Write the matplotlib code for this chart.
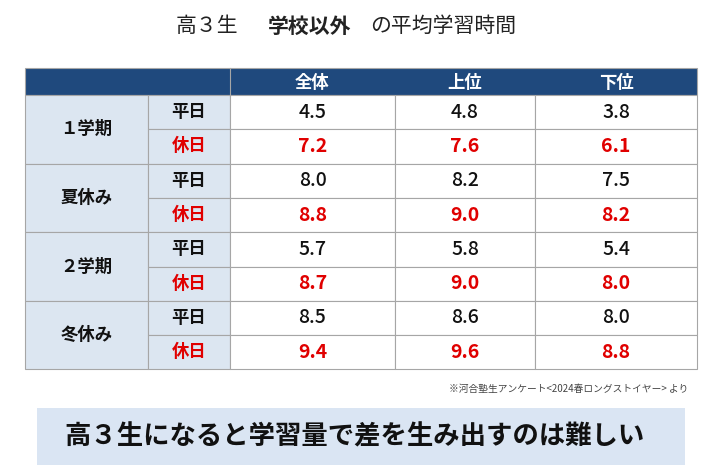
import matplotlib.pyplot as plt
from matplotlib.patches import Rectangle

plt.rcParams['font.family'] = 'Noto Sans CJK JP'

periods = ['１学期', '夏休み', '２学期', '冬休み']
day_types = ['平日', '休日']
groups = ['全体', '上位', '下位']
# [period][day_type][group]
hours = [
    [[4.5, 4.8, 3.8], [7.2, 7.6, 6.1]],
    [[8.0, 8.2, 7.5], [8.8, 9.0, 8.2]],
    [[5.7, 5.8, 5.4], [8.7, 9.0, 8.0]],
    [[8.5, 8.6, 8.0], [9.4, 9.6, 8.8]],
]

navy = '#1f497d'
light = '#dce6f1'
red = '#e00000'
grid = '#a6a6a6'

fig = plt.figure(figsize=(7.2, 4.76), dpi=100)
ax = fig.add_axes([0, 0, 1, 1])
ax.set_xlim(0, 720)
ax.set_ylim(476, 0)
ax.axis('off')

col_x = [25, 148, 230, 395, 535, 697]
head_top, head_bot = 68, 95
row_h = 34.3

# title
ax.text(176, 26, '高３生', ha='left', va='center', fontsize=15, color='#222')
ax.text(268, 26, '学校以外', ha='left', va='center', fontsize=15, fontweight='bold', color='#222')
ax.text(370, 26, 'の平均学習時間', ha='left', va='center', fontsize=15, color='#222')

# header
ax.add_patch(Rectangle((col_x[0], head_top), col_x[-1] - col_x[0], head_bot - head_top,
                       facecolor=navy, edgecolor=grid, lw=0.8))
for j, g in enumerate(groups):
    xc = (col_x[j + 2] + col_x[j + 3]) / 2
    ax.text(xc, (head_top + head_bot) / 2 + 1, g, ha='center', va='center',
            fontsize=12.5, fontweight='bold', color='white')
ax.plot([col_x[2], col_x[2]], [head_top, head_bot], color=grid, lw=0.8)

for i, p in enumerate(periods):
    y0 = head_bot + i * 2 * row_h
    ax.add_patch(Rectangle((col_x[0], y0), col_x[1] - col_x[0], 2 * row_h,
                           facecolor=light, edgecolor=grid, lw=0.8))
    ax.text((col_x[0] + col_x[1]) / 2, y0 + row_h, p, ha='center', va='center',
            fontsize=12.5, fontweight='bold', color='#111')
    for k, d in enumerate(day_types):
        yk = y0 + k * row_h
        c = '#111' if k == 0 else red
        ax.add_patch(Rectangle((col_x[1], yk), col_x[2] - col_x[1], row_h,
                               facecolor=light, edgecolor=grid, lw=0.8))
        ax.text((col_x[1] + col_x[2]) / 2, yk + row_h / 2, d, ha='center', va='center',
                fontsize=12.5, fontweight='bold', color=c)
        for j, v in enumerate(hours[i][k]):
            ax.add_patch(Rectangle((col_x[j + 2], yk), col_x[j + 3] - col_x[j + 2], row_h,
                                   facecolor='white', edgecolor=grid, lw=0.8))
            ax.text((col_x[j + 2] + col_x[j + 3]) / 2, yk + row_h / 2, f'{v:.1f}',
                    ha='center', va='center', fontsize=14,
                    fontweight='bold' if k == 1 else 'medium', color=c)

ax.text(688, 389, '※河合塾生アンケート<2024春ロングストイヤー> より', ha='right', va='center',
        fontsize=7, color='#444')

ax.add_patch(Rectangle((37, 408), 648, 57, facecolor='#dae5f3', edgecolor='none'))
ax.text(355, 437, '高３生になると学習量で差を生み出すのは難しい', ha='center', va='center',
        fontsize=19, fontweight='bold', color='#111')

fig.savefig('out.png', dpi=100)
